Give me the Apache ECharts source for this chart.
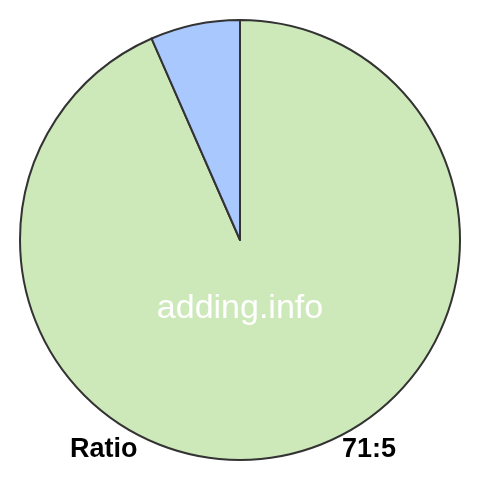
<!DOCTYPE html>
<html lang="en">
<head>
    <meta charset="UTF-8">
    <title>Ratio 71:5</title>
    <style>
        html, body { margin: 0; padding: 0; background: #fff; }
        #chartmain { width: 480px; height: 480px; }
    </style>
</head>
<body>
    <div id="chartmain"></div>
    <script src="https://cdn.jsdelivr.net/npm/echarts@6/dist/echarts.min.js"></script>
    <script type="text/javascript">
        var names = ['a', 'b'];
        var values = [71, 5];
        var colors = ['#cde8b9', '#a9c8fd'];

        var chart = echarts.init(document.getElementById('chartmain'));

        var data = [];
        for (var i = 0; i < values.length; i++) {
            data.push({ name: names[i], value: values[i], itemStyle: { color: colors[i] } });
        }

        var option = {
            animation: false,
            series: [{
                type: 'pie',
                center: [240, 240],
                radius: [0, 220],
                startAngle: 90,
                clockwise: true,
                label: { show: false },
                labelLine: { show: false },
                emphasis: { disabled: true },
                itemStyle: {
                    borderColor: '#333333',
                    borderWidth: 2
                },
                data: data
            }],
            graphic: [
                {
                    type: 'text', left: 'center', top: 292, z: 100,
                    style: { text: 'adding.info', fill: '#ffffff', font: '34px "Liberation Sans", Arial, sans-serif' }
                },
                {
                    type: 'text', left: 70, top: 436, z: 100,
                    style: { text: 'Ratio', fill: '#000000', font: 'bold 27px "Liberation Sans", Arial, sans-serif' }
                },
                {
                    type: 'text', right: 84, top: 436, z: 100,
                    style: { text: values[0] + ':' + values[1], fill: '#000000', font: 'bold 27px "Liberation Sans", Arial, sans-serif' }
                }
            ]
        };
        chart.setOption(option);
    </script>
</body>
</html>
